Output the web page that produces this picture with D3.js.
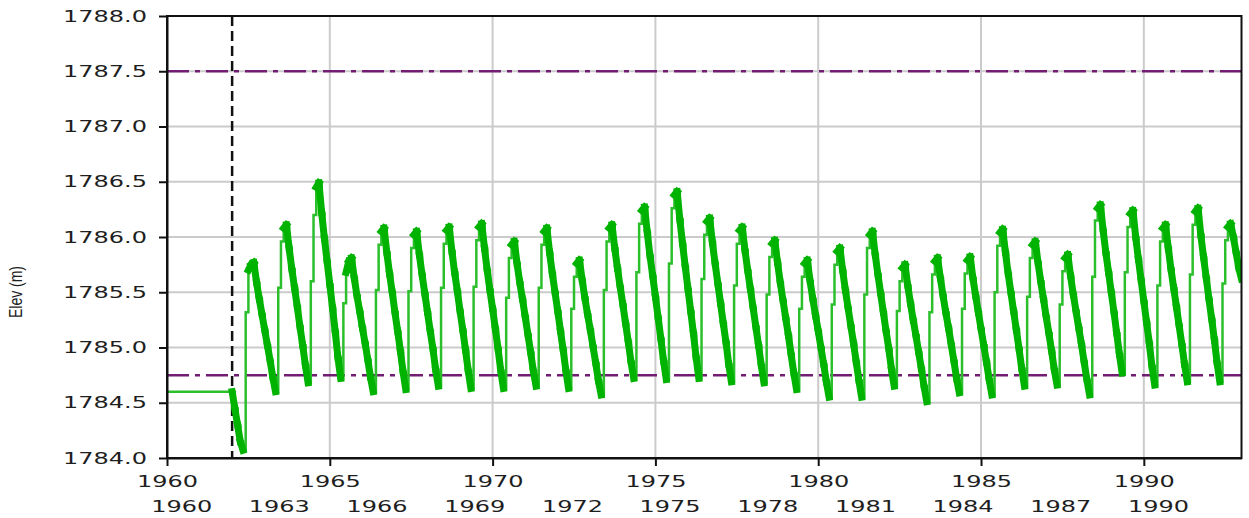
<!DOCTYPE html>
<html>
<head>
<meta charset="utf-8">
<script src="https://cdn.jsdelivr.net/npm/d3@7"></script>
<style>
    body { margin: 0; background: #fff; }
    svg text { font-family: "DejaVu Sans", sans-serif; font-size: 16px; fill: #1e1e1e; }
    .title { font-family: "Liberation Sans", sans-serif; font-size: 14px; }
</style>
</head>
<body>
<svg id="chart"></svg>
<script>
// monthly elevation (m), one row per year Jan..Dec, starting 1960
const startYear = 1960;
const elevByYear = [
    [1784.60,1784.60,1784.60,1784.60,1784.60,1784.60,1784.60,1784.60,1784.60,1784.60,1784.60,1784.60],
    [1784.60,1784.60,1784.60,1784.60,1784.60,1784.60,1784.60,1784.60,1784.60,1784.60,1784.60,1784.60],
    [1784.60,1784.45,1784.30,1784.15,1784.07,1785.32,1785.70,1785.75,1785.77,1785.59,1785.44,1785.30],
    [1785.16,1785.02,1784.88,1784.73,1784.60,1785.54,1785.96,1786.08,1786.11,1785.90,1785.71,1785.54],
    [1785.37,1785.19,1785.02,1784.84,1784.68,1785.60,1786.20,1786.45,1786.49,1786.22,1785.99,1785.78],
    [1785.57,1785.36,1785.14,1784.91,1784.72,1785.40,1785.68,1785.78,1785.81,1785.63,1785.47,1785.33],
    [1785.18,1785.04,1784.89,1784.73,1784.60,1785.52,1785.93,1786.05,1786.08,1785.86,1785.67,1785.50],
    [1785.32,1785.15,1784.97,1784.78,1784.62,1785.51,1785.90,1786.02,1786.05,1785.84,1785.66,1785.49],
    [1785.32,1785.15,1784.99,1784.80,1784.65,1785.54,1785.94,1786.06,1786.09,1785.87,1785.68,1785.51],
    [1785.33,1785.16,1784.98,1784.79,1784.63,1785.55,1785.97,1786.09,1786.12,1785.90,1785.70,1785.52],
    [1785.35,1785.17,1784.99,1784.79,1784.63,1785.45,1785.81,1785.93,1785.96,1785.76,1785.59,1785.44],
    [1785.28,1785.12,1784.96,1784.79,1784.65,1785.54,1785.93,1786.05,1786.08,1785.86,1785.67,1785.50],
    [1785.33,1785.15,1784.98,1784.79,1784.63,1785.35,1785.64,1785.76,1785.79,1785.61,1785.45,1785.30],
    [1785.16,1785.01,1784.86,1784.70,1784.57,1785.52,1785.96,1786.08,1786.11,1785.90,1785.72,1785.55],
    [1785.39,1785.22,1785.05,1784.87,1784.72,1785.68,1786.12,1786.24,1786.27,1786.04,1785.83,1785.65],
    [1785.46,1785.27,1785.08,1784.88,1784.71,1785.76,1786.26,1786.38,1786.41,1786.16,1785.94,1785.73],
    [1785.53,1785.33,1785.13,1784.91,1784.72,1785.62,1786.02,1786.14,1786.17,1785.95,1785.76,1785.58],
    [1785.40,1785.22,1785.05,1784.85,1784.69,1785.56,1785.94,1786.06,1786.09,1785.88,1785.70,1785.53],
    [1785.36,1785.19,1785.02,1784.84,1784.68,1785.48,1785.82,1785.94,1785.97,1785.77,1785.59,1785.43],
    [1785.27,1785.11,1784.94,1784.77,1784.62,1785.35,1785.64,1785.76,1785.79,1785.60,1785.44,1785.29],
    [1785.15,1785.00,1784.85,1784.69,1784.55,1785.39,1785.75,1785.87,1785.90,1785.70,1785.52,1785.36],
    [1785.20,1785.04,1784.87,1784.70,1784.55,1785.48,1785.90,1786.02,1786.05,1785.84,1785.66,1785.49],
    [1785.32,1785.15,1784.99,1784.80,1784.65,1785.33,1785.60,1785.72,1785.75,1785.56,1785.40,1785.25],
    [1785.11,1784.96,1784.81,1784.65,1784.51,1785.32,1785.66,1785.78,1785.81,1785.63,1785.47,1785.32],
    [1785.18,1785.03,1784.88,1784.72,1784.59,1785.35,1785.67,1785.79,1785.82,1785.63,1785.47,1785.32],
    [1785.17,1785.02,1784.87,1784.71,1784.57,1785.50,1785.92,1786.04,1786.07,1785.86,1785.67,1785.50],
    [1785.33,1785.16,1784.99,1784.81,1784.65,1785.46,1785.81,1785.93,1785.96,1785.77,1785.60,1785.44],
    [1785.28,1785.13,1784.97,1784.80,1784.66,1785.39,1785.69,1785.81,1785.84,1785.65,1785.48,1785.33],
    [1785.18,1785.03,1784.87,1784.71,1784.57,1785.64,1786.15,1786.26,1786.29,1786.06,1785.86,1785.68],
    [1785.50,1785.32,1785.13,1784.94,1784.77,1785.68,1786.09,1786.21,1786.24,1786.00,1785.80,1785.61],
    [1785.42,1785.23,1785.04,1784.83,1784.66,1785.56,1785.96,1786.08,1786.11,1785.90,1785.71,1785.54],
    [1785.37,1785.20,1785.03,1784.85,1784.69,1785.66,1786.11,1786.23,1786.26,1786.02,1785.82,1785.63],
    [1785.44,1785.26,1785.07,1784.86,1784.69,1785.58,1785.97,1786.09,1786.12,1786.00,1785.86,1785.72],
    [1785.62]
];

const yTicks = [1784.0, 1784.5, 1785.0, 1785.5, 1786.0, 1786.5, 1787.0, 1787.5, 1788.0];
const xTicksMajor = [1960, 1965, 1970, 1975, 1980, 1985, 1990];
const xLabelsSecond = [1960, 1963, 1966, 1969, 1972, 1975, 1978, 1981, 1984, 1987, 1990];
const refLevels = [1787.5, 1784.75];
const startMarkerYear = 1962;

const width = 1249, height = 518;
const margin = {top: 16, left: 167, right: 7.5, bottom: 60};

const svg = d3.select('#chart')
    .attr('width', width)
    .attr('height', height);

const x = d3.scaleLinear()
    .domain([1960, 1993])
    .range([margin.left, width - margin.right]);
const y = d3.scaleLinear()
    .domain([1784, 1788])
    .range([height - margin.bottom, margin.top]);

// flatten to monthly points
const series = [];
elevByYear.forEach((row, yi) => {
    row.forEach((v, m) => series.push({t: startYear + yi + m / 12, v: v}));
});

svg.append('clipPath')
    .attr('id', 'plot-clip')
  .append('rect')
    .attr('x', x(1960))
    .attr('y', y(1788))
    .attr('width', x(1993) - x(1960))
    .attr('height', y(1784) - y(1788));

// grid
const grid = svg.append('g').attr('stroke', '#cbcbcb').attr('stroke-width', 2);
grid.selectAll('.gy')
    .data(yTicks.filter(d => d > 1784 && d < 1788))
    .enter().append('line')
    .attr('x1', x(1960)).attr('x2', x(1993))
    .attr('y1', d => y(d)).attr('y2', d => y(d));
grid.selectAll('.gx')
    .data(xTicksMajor.filter(d => d > 1960))
    .enter().append('line')
    .attr('x1', d => x(d)).attr('x2', d => x(d))
    .attr('y1', y(1788)).attr('y2', y(1784));

// reference levels
svg.append('g').selectAll('line')
    .data(refLevels)
    .enter().append('line')
    .attr('x1', x(1960)).attr('x2', x(1993))
    .attr('y1', d => y(d)).attr('y2', d => y(d))
    .attr('stroke', '#731c73')
    .attr('stroke-width', 2.5)
    .attr('stroke-dasharray', '22,6,5,6');

// start marker
svg.append('line')
    .attr('x1', x(startMarkerYear)).attr('x2', x(startMarkerYear))
    .attr('y1', y(1788)).attr('y2', y(1784))
    .attr('stroke', '#111')
    .attr('stroke-width', 2.5)
    .attr('stroke-dasharray', '10,5');

// elevation line
const lineGroup = svg.append('g').attr('clip-path', 'url(#plot-clip)');
lineGroup.append('path')
    .datum(series)
    .attr('fill', 'none')
    .attr('stroke', '#2cbf2c')
    .attr('stroke-width', 2.5)
    .attr('d', d3.line().curve(d3.curveStepAfter).x(d => x(d.t)).y(d => y(d.v)));

// dense marker band on the falling limbs and peaks
const band = d3.pairs(series).filter(([a, b]) => a.t >= startMarkerYear && b.v - a.v < 0.1);
lineGroup.selectAll('.band')
    .data(band)
    .enter().append('line')
    .attr('x1', d => x(d[0].t)).attr('y1', d => y(d[0].v))
    .attr('x2', d => x(d[1].t)).attr('y2', d => y(d[1].v))
    .attr('stroke', '#00b300')
    .attr('stroke-width', 7)
    .attr('stroke-linecap', 'square');

// frame
svg.append('rect')
    .attr('x', x(1960)).attr('y', y(1788))
    .attr('width', x(1993) - x(1960)).attr('height', y(1784) - y(1788))
    .attr('fill', 'none')
    .attr('stroke', '#111')
    .attr('stroke-width', 2);

// axes
const yAxis = d3.axisLeft(y)
    .tickValues(yTicks)
    .tickSize(8)
    .tickSizeOuter(0)
    .tickFormat(d3.format('.1f'));
const gy = svg.append('g')
    .attr('transform', 'translate(' + x(1960) + ',0)')
    .call(yAxis);
gy.select('.domain').attr('stroke', '#111').attr('stroke-width', 2);
gy.selectAll('.tick line').attr('stroke', '#111').attr('stroke-width', 2);
gy.selectAll('.tick text')
    .attr('x', 0)
    .attr('transform', 'translate(-20,0) scale(1.5,1)')
    .attr('font-size', null)
    .attr('font-family', null)
    .attr('fill', null);

const xAxis = d3.axisBottom(x)
    .tickValues(xTicksMajor)
    .tickSize(8)
    .tickSizeOuter(0)
    .tickFormat(d3.format('d'));
const gx = svg.append('g')
    .attr('transform', 'translate(0,' + y(1784) + ')')
    .call(xAxis);
gx.select('.domain').attr('stroke', '#111').attr('stroke-width', 2);
gx.selectAll('.tick line').attr('stroke', '#111').attr('stroke-width', 2);
gx.selectAll('.tick text')
    .attr('y', 0)
    .attr('dy', '0.36em')
    .attr('transform', 'translate(0,23) scale(1.5,1)')
    .attr('font-size', null)
    .attr('font-family', null)
    .attr('fill', null);

// second row of year labels
svg.append('g').selectAll('text')
    .data(xLabelsSecond)
    .enter().append('text')
    .attr('text-anchor', 'middle')
    .attr('dy', '0.36em')
    .attr('transform', d => 'translate(' + x(d + 0.45) + ',' + (y(1784) + 48) + ') scale(1.5,1)')
    .text(d => d);

// axis title
svg.append('text')
    .attr('class', 'title')
    .attr('text-anchor', 'middle')
    .attr('transform', 'translate(22,292) rotate(-90) scale(1,1.3)')
    .text('Elev (m)');
</script>
</body>
</html>
